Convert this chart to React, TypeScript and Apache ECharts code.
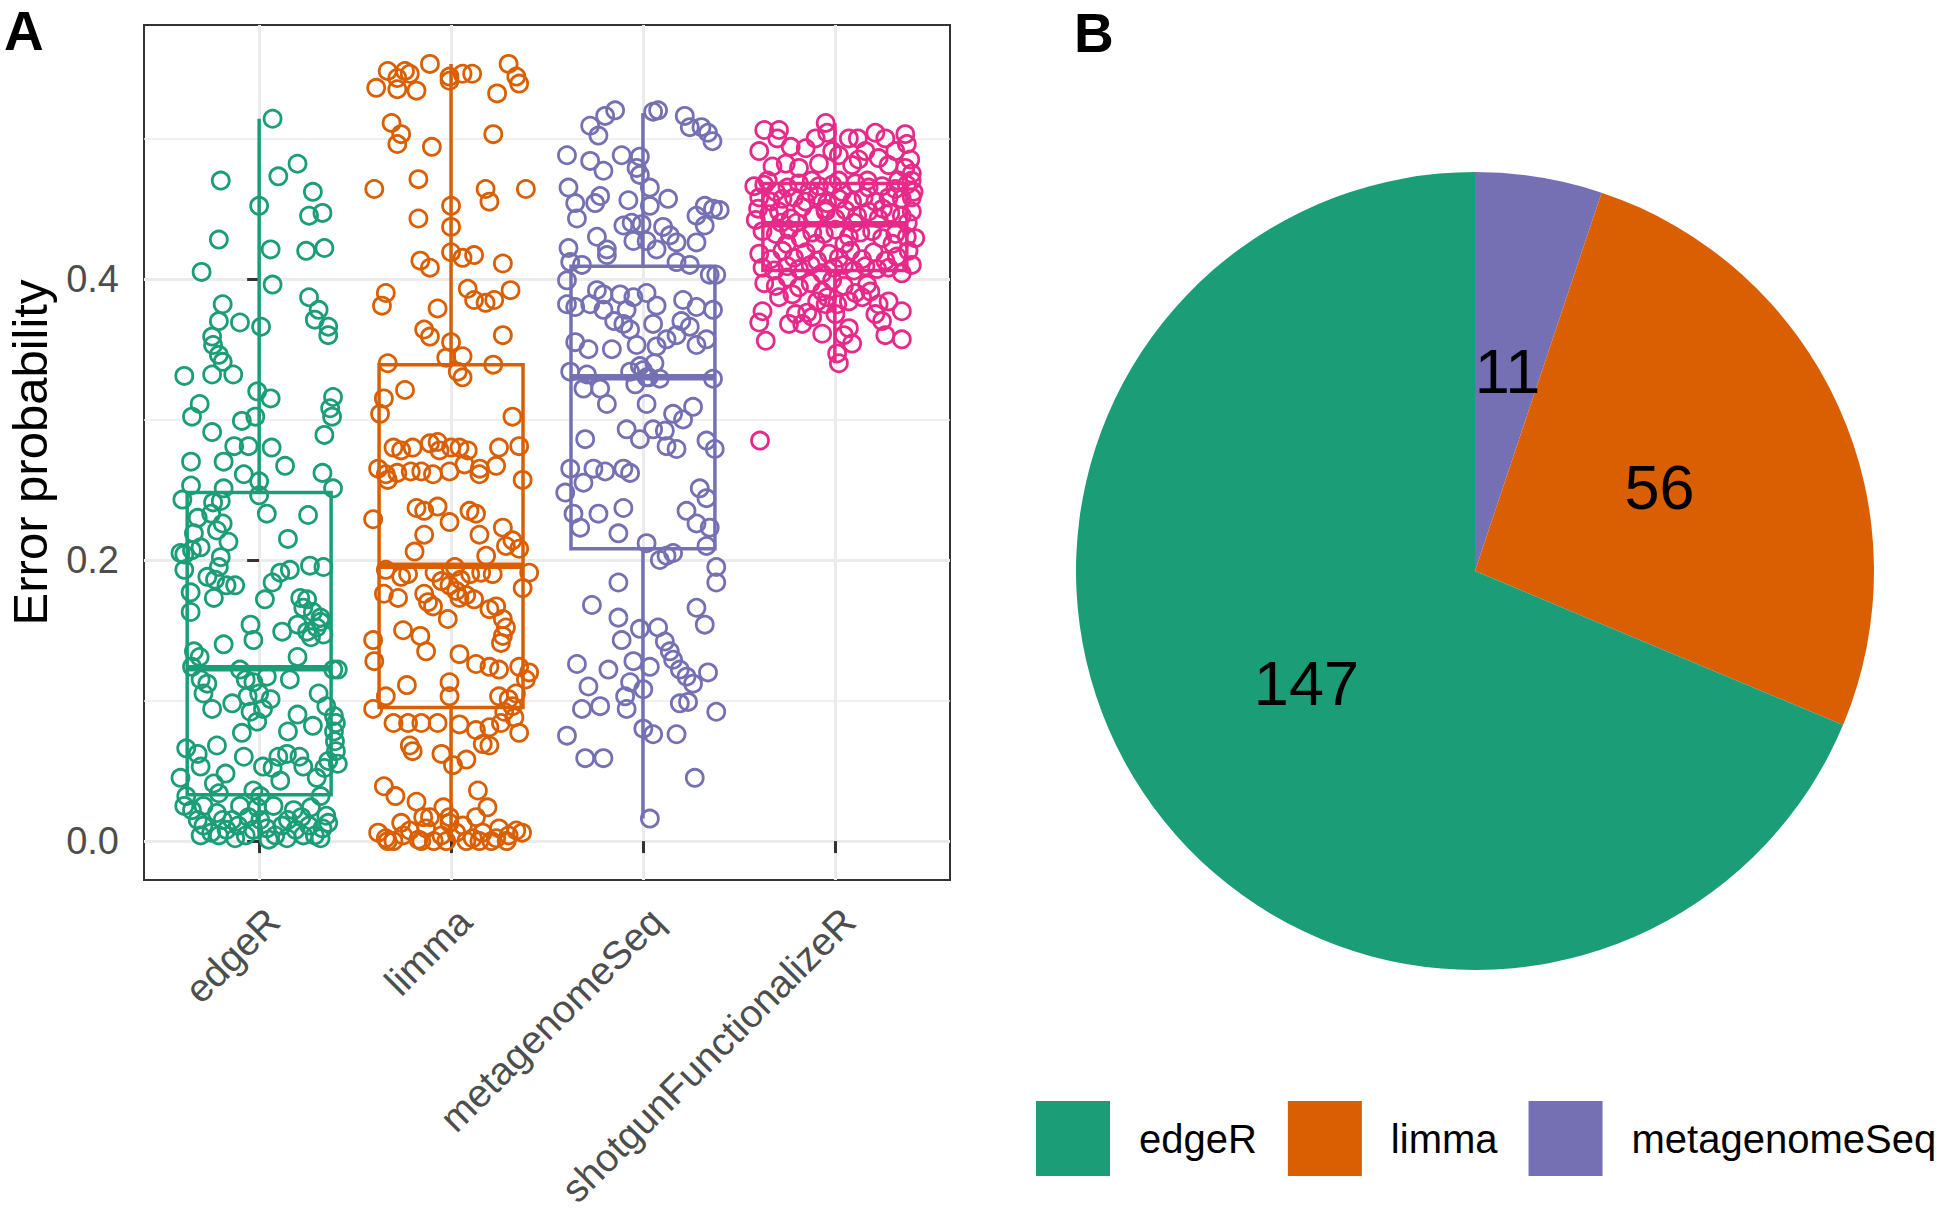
import React, { useEffect, useRef } from 'react';
import * as echarts from 'echarts';

const FONT = '"Liberation Sans", Arial, Helvetica, sans-serif';

const categories = ['edgeR', 'limma', 'metagenomeSeq', 'shotgunFunctionalizeR'];
const categoryColors = ['#1b9e77', '#d95f02', '#7570b3', '#e7298a'];

const yMajorTicks = [0, 0.2, 0.4];
const yMinorTicks = [0.1, 0.3, 0.5];
const xTicks = [0, 1, 2, 3];

// box statistics: [lower whisker, Q1, median, Q3, upper whisker]
const boxEdgeR = [0.001, 0.033, 0.123, 0.248, 0.514];
const boxLimma = [0.0, 0.095, 0.196, 0.339, 0.553];
const boxMetagenomeSeq = [0.016, 0.208, 0.33, 0.409, 0.518];
const boxShotgun = [0.34, 0.406, 0.439, 0.468, 0.511];

// jittered points: [horizontal jitter (category units), error probability]
const pointsEdgeR = [
  [0.07, 0.514], [-0.2, 0.47], [0.1, 0.473], [0.2, 0.482], [0.0, 0.452], [0.28, 0.462], [0.26, 0.445], [0.33, 0.447],
  [-0.21, 0.428], [0.06, 0.421], [0.245, 0.42], [0.34, 0.422], [-0.3, 0.405], [0.07, 0.396], [0.26, 0.387], [-0.19, 0.382],
  [0.31, 0.378], [0.29, 0.371], [0.36, 0.366], [0.36, 0.36], [-0.1, 0.369], [-0.21, 0.37], [0.01, 0.366], [-0.245, 0.359],
  [-0.24, 0.353], [-0.21, 0.346], [-0.19, 0.341], [-0.135, 0.332], [-0.245, 0.332], [-0.39, 0.331], [-0.01, 0.32], [0.06, 0.315],
  [0.385, 0.316], [0.37, 0.308], [0.38, 0.302], [-0.31, 0.311], [-0.35, 0.302], [-0.09, 0.299], [-0.02, 0.302], [-0.245, 0.291],
  [0.34, 0.289], [-0.13, 0.281], [-0.055, 0.281], [0.065, 0.28], [-0.355, 0.27], [-0.185, 0.27], [0.135, 0.267], [-0.08, 0.261],
  [0.33, 0.262], [-0.355, 0.253], [-0.185, 0.251], [0.0, 0.256], [0.385, 0.251], [-0.4, 0.243], [-0.24, 0.241], [-0.2, 0.242],
  [0.0, 0.246], [0.04, 0.233], [0.255, 0.232], [-0.32, 0.23], [-0.25, 0.233], [-0.19, 0.226], [-0.22, 0.221], [-0.34, 0.219],
  [0.15, 0.215], [-0.16, 0.213], [-0.41, 0.205], [-0.39, 0.204], [-0.35, 0.207], [-0.305, 0.209], [-0.2, 0.202], [-0.21, 0.195],
  [-0.27, 0.188], [-0.23, 0.186], [-0.17, 0.182], [-0.125, 0.182], [-0.39, 0.193], [0.11, 0.191], [0.16, 0.193], [0.265, 0.196],
  [0.335, 0.195], [0.07, 0.184], [0.03, 0.172], [-0.357, 0.177], [-0.357, 0.163], [-0.236, 0.173], [0.214, 0.173], [0.25, 0.172],
  [0.23, 0.166], [0.28, 0.163], [0.32, 0.159], [0.3, 0.152], [0.25, 0.149], [0.27, 0.145], [0.335, 0.147], [0.32, 0.156],
  [0.2, 0.154], [0.12, 0.149], [-0.045, 0.154], [-0.03, 0.143], [-0.185, 0.14], [-0.34, 0.135], [-0.31, 0.131], [-0.35, 0.124],
  [0.386, 0.122], [0.41, 0.122], [0.2, 0.131], [-0.305, 0.115], [-0.27, 0.112], [-0.29, 0.105], [-0.245, 0.094], [-0.14, 0.098],
  [-0.1, 0.122], [-0.07, 0.115], [-0.03, 0.113], [0.04, 0.117], [0.16, 0.115], [0.02, 0.094], [-0.045, 0.092], [-0.06, 0.103],
  [0.0, 0.105], [0.06, 0.101], [0.31, 0.105], [0.35, 0.096], [0.39, 0.089], [0.4, 0.084], [0.39, 0.078], [0.395, 0.071],
  [0.4, 0.064], [0.41, 0.055], [0.28, 0.082], [0.2, 0.09], [0.15, 0.078], [-0.01, 0.085], [-0.09, 0.077], [-0.22, 0.068],
  [-0.38, 0.066], [-0.32, 0.062], [-0.305, 0.053], [-0.41, 0.045], [-0.38, 0.032], [-0.175, 0.048], [-0.08, 0.06], [0.02, 0.053],
  [0.07, 0.052], [0.1, 0.06], [0.145, 0.062], [0.21, 0.06], [0.23, 0.053], [0.3, 0.045], [0.34, 0.052], [0.36, 0.057],
  [0.11, 0.043], [-0.236, 0.041], [-0.21, 0.034], [-0.03, 0.036], [0.006, 0.032], [0.32, 0.032], [-0.39, 0.025], [-0.35, 0.022],
  [-0.32, 0.015], [-0.29, 0.011], [-0.25, 0.006], [-0.21, 0.004], [-0.17, 0.008], [-0.14, 0.015], [-0.11, 0.011], [-0.07, 0.004],
  [-0.03, 0.008], [0.006, 0.015], [0.04, 0.009], [0.084, 0.004], [0.12, 0.011], [0.15, 0.015], [0.19, 0.008], [0.22, 0.017],
  [0.26, 0.011], [0.29, 0.004], [0.33, 0.009], [0.36, 0.013], [-0.29, 0.025], [-0.22, 0.02], [-0.1, 0.025], [-0.01, 0.024],
  [0.075, 0.025], [0.18, 0.022], [0.27, 0.024], [0.35, 0.018], [-0.305, 0.004], [-0.19, 0.015], [-0.055, 0.017], [0.145, 0.002],
  [0.23, 0.004], [-0.125, 0.002], [0.05, 0.001], [0.32, 0.002],
];

const pointsLimma = [
  [-0.11, 0.553], [-0.33, 0.548], [-0.24, 0.548], [-0.215, 0.546], [-0.28, 0.543], [-0.39, 0.536], [-0.28, 0.535], [-0.18, 0.534],
  [-0.008, 0.544], [0.06, 0.546], [0.11, 0.546], [0.3, 0.553], [0.34, 0.544], [0.355, 0.539], [0.24, 0.532], [-0.008, 0.541],
  [-0.31, 0.511], [-0.26, 0.503], [-0.28, 0.496], [-0.1, 0.494], [0.22, 0.503], [-0.4, 0.464], [-0.17, 0.471], [0.18, 0.464],
  [0.2, 0.455], [0.39, 0.464], [0.0, 0.452], [0.0, 0.437], [-0.17, 0.443], [0.0, 0.419], [0.06, 0.415], [0.12, 0.417],
  [-0.16, 0.413], [-0.11, 0.408], [0.27, 0.411], [-0.34, 0.39], [-0.36, 0.381], [-0.07, 0.379], [0.087, 0.393], [0.12, 0.385],
  [0.18, 0.383], [0.225, 0.385], [0.31, 0.392], [-0.14, 0.364], [-0.11, 0.359], [0.0, 0.355], [0.06, 0.345], [0.27, 0.36],
  [-0.025, 0.344], [0.035, 0.334], [0.06, 0.33], [0.22, 0.339], [-0.33, 0.34], [-0.24, 0.321], [-0.35, 0.315], [-0.37, 0.304],
  [0.32, 0.302], [-0.3, 0.28], [-0.26, 0.278], [-0.11, 0.283], [-0.07, 0.284], [-0.06, 0.278], [0.044, 0.28], [0.087, 0.278],
  [0.25, 0.28], [0.355, 0.281], [-0.38, 0.265], [-0.34, 0.261], [-0.33, 0.257], [-0.21, 0.263], [-0.155, 0.263], [-0.094, 0.261],
  [-0.008, 0.263], [0.07, 0.268], [0.148, 0.261], [0.235, 0.267], [0.373, 0.257], [-0.18, 0.237], [-0.14, 0.235], [-0.07, 0.238],
  [-0.008, 0.227], [0.096, 0.235], [0.13, 0.233], [0.148, 0.218], [0.27, 0.223], [0.32, 0.214], [-0.406, 0.229], [-0.14, 0.218],
  [-0.19, 0.206], [0.286, 0.21], [0.355, 0.208], [0.183, 0.203], [-0.34, 0.193], [-0.26, 0.188], [-0.224, 0.19], [-0.086, 0.191],
  [-0.008, 0.182], [0.027, 0.178], [0.044, 0.173], [0.079, 0.175], [0.157, 0.191], [0.217, 0.19], [0.407, 0.191], [0.373, 0.18],
  [-0.35, 0.176], [-0.276, 0.173], [-0.14, 0.176], [-0.094, 0.167], [-0.017, 0.158], [0.2, 0.165], [0.235, 0.167], [0.27, 0.158],
  [0.286, 0.152], [0.27, 0.146], [0.26, 0.141], [-0.25, 0.15], [-0.16, 0.146], [-0.406, 0.143], [-0.4, 0.128], [-0.13, 0.135],
  [0.044, 0.133], [0.13, 0.126], [0.2, 0.124], [0.25, 0.122], [0.355, 0.124], [0.407, 0.12], [0.39, 0.115], [-0.23, 0.111],
  [-0.008, 0.113], [-0.008, 0.103], [-0.34, 0.103], [-0.406, 0.094], [0.25, 0.103], [0.3, 0.101], [0.338, 0.105], [0.32, 0.096],
  [0.277, 0.092], [-0.2, 0.28], [0.0, 0.28], [0.15, 0.265], [-0.28, 0.262], [0.1, 0.19], [-0.05, 0.185], [0.05, 0.186],
  [0.12, 0.172], [-0.12, 0.17], [0.02, 0.195], [-0.3, 0.084], [-0.224, 0.084], [-0.155, 0.084], [-0.07, 0.084], [0.044, 0.083],
  [0.13, 0.079], [0.2, 0.081], [0.26, 0.084], [0.33, 0.088], [0.355, 0.077], [-0.215, 0.068], [-0.2, 0.064], [-0.05, 0.062],
  [0.01, 0.054], [0.08, 0.058], [0.165, 0.069], [0.2, 0.068], [-0.35, 0.039], [-0.29, 0.032], [-0.18, 0.028], [-0.04, 0.024],
  [0.14, 0.036], [0.19, 0.024], [0.13, 0.017], [-0.008, 0.017], [-0.145, 0.017], [-0.38, 0.006], [-0.34, 0.002], [-0.3, 0.0],
  [-0.25, 0.004], [-0.215, 0.0075], [-0.17, 0.001], [-0.13, 0.009], [-0.09, 0.0], [-0.05, 0.004], [-0.008, 0.013], [0.027, 0.006],
  [0.08, 0.0], [0.113, 0.002], [0.165, 0.006], [0.21, 0.0], [0.25, 0.009], [0.3, 0.004], [0.34, 0.0075], [0.37, 0.006],
  [-0.26, 0.013], [-0.11, 0.017], [0.062, 0.011], [0.29, 0.0], [-0.33, 0.0], [-0.025, 0.0], [0.148, 0.0], [-0.155, 0.0],
  [0.235, 0.002],
];

const pointsMetagenomeSeq = [
  [-0.145, 0.52], [-0.197, 0.516], [-0.275, 0.509], [-0.232, 0.502], [0.053, 0.519], [0.079, 0.52], [0.218, 0.516], [0.244, 0.508],
  [0.305, 0.508], [0.339, 0.504], [0.362, 0.498], [-0.396, 0.488], [-0.275, 0.484], [-0.206, 0.477], [-0.111, 0.488], [-0.016, 0.487],
  [-0.033, 0.479], [-0.016, 0.474], [-0.388, 0.465], [-0.353, 0.454], [-0.344, 0.443], [-0.249, 0.454], [-0.223, 0.459], [-0.076, 0.456],
  [0.036, 0.465], [0.036, 0.452], [0.131, 0.457], [0.279, 0.445], [0.322, 0.452], [0.365, 0.45], [0.4, 0.449], [0.322, 0.438],
  [-0.102, 0.438], [-0.059, 0.44], [-0.007, 0.439], [0.105, 0.437], [0.14, 0.431], [-0.05, 0.427], [-0.24, 0.43], [-0.388, 0.422],
  [-0.188, 0.421], [0.019, 0.427], [0.071, 0.421], [0.175, 0.426], [0.279, 0.426], [-0.379, 0.412], [-0.318, 0.41], [-0.188, 0.417],
  [0.175, 0.412], [0.244, 0.41], [0.348, 0.403], [0.382, 0.403], [-0.396, 0.399], [-0.24, 0.392], [-0.206, 0.389], [-0.119, 0.389],
  [-0.05, 0.387], [0.019, 0.39], [-0.396, 0.382], [-0.353, 0.38], [-0.275, 0.382], [-0.206, 0.378], [-0.085, 0.378], [0.071, 0.381],
  [0.209, 0.385], [0.279, 0.38], [0.365, 0.378], [-0.102, 0.368], [-0.067, 0.364], [0.053, 0.368], [0.175, 0.36], [0.244, 0.366],
  [-0.353, 0.355], [-0.284, 0.35], [-0.162, 0.35], [-0.033, 0.353], [0.071, 0.352], [0.123, 0.357], [0.279, 0.353], [0.331, 0.357],
  [-0.379, 0.334], [-0.292, 0.332], [-0.223, 0.322], [-0.188, 0.311], [-0.067, 0.334], [-0.016, 0.338], [0.019, 0.33], [0.088, 0.329],
  [0.365, 0.329], [-0.31, 0.322], [0.019, 0.311], [0.157, 0.304], [0.209, 0.3], [0.261, 0.309], [-0.085, 0.293], [0.053, 0.293],
  [0.114, 0.292], [0.123, 0.281], [0.175, 0.279], [-0.016, 0.286], [-0.301, 0.286], [0.331, 0.285], [0.374, 0.279], [-0.379, 0.265],
  [-0.258, 0.265], [-0.197, 0.263], [-0.102, 0.265], [-0.067, 0.262], [-0.31, 0.255], [-0.405, 0.248], [-0.362, 0.233], [-0.232, 0.233],
  [-0.327, 0.223], [-0.102, 0.237], [0.296, 0.251], [0.331, 0.244], [0.227, 0.235], [0.279, 0.226], [0.348, 0.223], [-0.128, 0.219],
  [0.019, 0.212], [0.088, 0.2], [0.123, 0.203], [0.157, 0.205], [0.331, 0.21], [0.382, 0.195], [0.382, 0.184], [0.0, 0.335],
  [0.03, 0.33], [-0.04, 0.325], [0.06, 0.34], [-0.15, 0.37], [0.2, 0.37], [-0.266, 0.168], [-0.128, 0.184], [-0.128, 0.159],
  [-0.111, 0.143], [0.279, 0.166], [0.322, 0.154], [-0.016, 0.151], [0.079, 0.152], [0.114, 0.142], [0.14, 0.135], [0.157, 0.129],
  [-0.344, 0.126], [-0.18, 0.122], [-0.05, 0.128], [0.036, 0.124], [-0.067, 0.113], [0.002, 0.108], [0.192, 0.122], [0.227, 0.117],
  [0.261, 0.112], [0.339, 0.12], [-0.284, 0.11], [-0.318, 0.094], [-0.223, 0.096], [-0.093, 0.103], [-0.085, 0.094], [0.192, 0.098],
  [0.235, 0.099], [0.382, 0.092], [-0.396, 0.075], [-0.301, 0.059], [-0.206, 0.059], [0.002, 0.08], [0.053, 0.076], [0.175, 0.076],
  [0.27, 0.045], [0.036, 0.016],
];

const pointsShotgun = [
  [-0.368, 0.506], [-0.291, 0.506], [-0.394, 0.491], [-0.048, 0.511], [-0.04, 0.504], [0.073, 0.5], [0.211, 0.504], [0.263, 0.5],
  [0.367, 0.503], [0.375, 0.496], [-0.23, 0.494], [-0.152, 0.493], [-0.014, 0.491], [0.021, 0.488], [0.159, 0.491], [0.228, 0.486],
  [0.315, 0.491], [0.393, 0.485], [-0.325, 0.48], [-0.256, 0.482], [-0.187, 0.479], [-0.083, 0.482], [0.09, 0.481], [0.124, 0.485],
  [0.28, 0.481], [0.367, 0.479], [0.401, 0.475], [-0.42, 0.466], [-0.368, 0.467], [-0.308, 0.462], [-0.247, 0.465], [-0.187, 0.468],
  [-0.135, 0.462], [-0.083, 0.466], [-0.014, 0.467], [0.038, 0.462], [0.107, 0.468], [0.176, 0.465], [0.246, 0.466], [0.315, 0.464],
  [0.375, 0.467], [0.41, 0.462], [-0.394, 0.458], [-0.334, 0.455], [-0.273, 0.457], [-0.213, 0.458], [-0.152, 0.455], [-0.092, 0.459],
  [-0.04, 0.454], [0.021, 0.457], [0.09, 0.455], [0.15, 0.458], [0.211, 0.455], [0.28, 0.458], [0.349, 0.457], [0.401, 0.458],
  [-0.412, 0.442], [-0.343, 0.446], [-0.291, 0.448], [-0.23, 0.443], [-0.17, 0.451], [-0.109, 0.445], [-0.048, 0.448], [0.003, 0.443],
  [0.055, 0.449], [0.116, 0.445], [0.176, 0.448], [0.228, 0.443], [0.289, 0.447], [0.349, 0.445], [0.401, 0.448], [-0.377, 0.434],
  [-0.308, 0.432], [-0.239, 0.435], [-0.178, 0.429], [-0.118, 0.433], [-0.057, 0.432], [0.003, 0.435], [0.073, 0.43], [0.133, 0.433],
  [0.194, 0.434], [0.246, 0.429], [0.315, 0.432], [0.375, 0.43], [0.419, 0.429], [-0.394, 0.418], [-0.334, 0.414], [-0.273, 0.42],
  [-0.213, 0.415], [-0.152, 0.419], [-0.092, 0.413], [-0.031, 0.418], [0.021, 0.415], [0.081, 0.42], [0.142, 0.414], [0.202, 0.419],
  [0.263, 0.413], [0.323, 0.416], [0.384, 0.42], [-0.377, 0.408], [-0.316, 0.406], [-0.247, 0.409], [-0.187, 0.407], [-0.126, 0.41],
  [-0.066, 0.404], [-0.005, 0.408], [0.047, 0.41], [0.099, 0.406], [0.159, 0.409], [0.22, 0.407], [0.28, 0.408], [0.349, 0.404],
  [0.401, 0.41], [-0.368, 0.397], [-0.308, 0.395], [-0.247, 0.401], [-0.187, 0.394], [-0.126, 0.397], [-0.066, 0.391], [-0.014, 0.399],
  [0.047, 0.395], [0.107, 0.39], [0.168, 0.396], [-0.291, 0.387], [-0.221, 0.389], [-0.092, 0.384], [-0.04, 0.387], [0.012, 0.382],
  [0.073, 0.384], [0.142, 0.387], [0.228, 0.382], [0.28, 0.384], [0.349, 0.377], [-0.377, 0.377], [-0.394, 0.369], [-0.36, 0.356],
  [-0.239, 0.368], [-0.17, 0.368], [-0.118, 0.373], [-0.066, 0.361], [0.003, 0.375], [0.073, 0.365], [0.09, 0.354], [0.012, 0.347],
  [0.021, 0.34], [0.047, 0.36], [0.211, 0.375], [0.246, 0.37], [0.263, 0.36], [0.349, 0.357], [-0.048, 0.382], [-0.144, 0.376],
  [-0.204, 0.375], [0.185, 0.391], [-0.35, 0.47], [-0.2, 0.44], [-0.05, 0.45], [0.1, 0.44], [0.25, 0.45], [0.38, 0.44],
  [-0.28, 0.44], [0.17, 0.47], [0.33, 0.47], [-0.12, 0.47], [0.02, 0.47], [-0.4, 0.45], [0.3, 0.425], [-0.25, 0.425],
  [0.05, 0.425], [-0.1, 0.425], [0.4, 0.47], [0.12, 0.5], [-0.1, 0.5], [-0.3, 0.5], [-0.39, 0.285],
];

const boxStats = [boxEdgeR, boxLimma, boxMetagenomeSeq, boxShotgun];
const groupPoints = [pointsEdgeR, pointsLimma, pointsMetagenomeSeq, pointsShotgun];

// pie (panel B), drawn clockwise from 12 o'clock
const pieNames = ['metagenomeSeq', 'limma', 'edgeR'];
const pieValues = [11, 56, 147];
const pieColors = ['#7570b3', '#d95f02', '#1b9e77'];
const legendNames = ['edgeR', 'limma', 'metagenomeSeq'];

export default function App() {
  const ref = useRef<HTMLDivElement>(null);

  useEffect(() => {
    const chart = echarts.init(ref.current as HTMLDivElement, null, { renderer: 'svg' });

    const scatterSeries = groupPoints.map((pts, i) => ({
      type: 'scatter',
      name: 'points-' + categories[i],
      xAxisIndex: 0,
      yAxisIndex: 0,
      z: 4,
      silent: true,
      symbol: 'circle',
      symbolSize: 17,
      itemStyle: { color: 'rgba(0,0,0,0)', borderColor: categoryColors[i], borderWidth: 2.8, opacity: 1 },
      data: pts.map(([o, v]) => [i + o, v]),
    }));

    const option: any = {
      animation: false,
      textStyle: { fontFamily: FONT },
      graphic: [
        { type: 'text', x: 4, y: 3, style: { text: 'A', fontFamily: FONT, fontWeight: 'bold', fontSize: 55, fill: '#000', verticalAlign: 'top' } },
        { type: 'text', x: 1074, y: 5, style: { text: 'B', fontFamily: FONT, fontWeight: 'bold', fontSize: 55, fill: '#000', verticalAlign: 'top' } },
      ],
      grid: {
        left: 144, top: 25, width: 806, height: 855,
        show: true, borderColor: '#333333', borderWidth: 2, backgroundColor: 'transparent',
        outerBoundsMode: 'none',
      },
      xAxis: {
        type: 'value', min: -0.6, max: 3.6,
        axisLine: { show: false },
        axisTick: { show: true, customValues: xTicks, length: 12, lineStyle: { color: '#333333', width: 3 } },
        axisLabel: {
          customValues: xTicks,
          formatter: (v: number) => categories[Math.round(v)] ?? '',
          rotate: 45, fontSize: 39, color: '#4d4d4d', margin: 21,
          align: 'right', verticalAlign: 'top', fontFamily: FONT,
        },
        splitLine: { show: true, lineStyle: { color: '#ebebeb', width: 3 } },
      },
      yAxis: [
        {
          type: 'value', min: -0.0277, max: 0.5807,
          axisLine: { show: false },
          axisTick: { show: true, customValues: yMajorTicks, length: 12, lineStyle: { color: '#333333', width: 3 } },
          axisLabel: {
            customValues: yMajorTicks,
            formatter: (v: number) => v.toFixed(1),
            fontSize: 38, color: '#4d4d4d', margin: 25, fontFamily: FONT,
          },
          splitLine: { show: true, lineStyle: { color: '#ebebeb', width: 3 } },
          name: 'Error probability', nameLocation: 'middle', nameGap: 90, nameRotate: 90,
          nameTextStyle: { fontSize: 49, color: '#000', fontFamily: FONT },
        },
        {
          type: 'value', min: -0.0277, max: 0.5807, position: 'left',
          axisLine: { show: false },
          axisTick: { show: false, customValues: yMinorTicks },
          axisLabel: { show: false, customValues: yMinorTicks },
          splitLine: { show: true, lineStyle: { color: '#ebebeb', width: 1.5 } },
        },
      ],
      legend: {
        data: legendNames, left: 1036, top: 1101, orient: 'horizontal',
        itemWidth: 74, itemHeight: 75, itemGap: 31, padding: 0, width: 1400,
        icon: 'rect', selectedMode: false,
        textStyle: { fontSize: 40, color: '#000', padding: [0, 0, 0, 24], fontFamily: FONT },
      },
      series: [
        {
          type: 'custom',
          name: 'boxes',
          xAxisIndex: 0,
          yAxisIndex: 0,
          z: 3,
          silent: true,
          data: boxStats.map((s, i) => [i, ...s]),
          encode: { x: 0, y: [1, 2, 3, 4, 5] },
          renderItem: (params: any, api: any) => {
            const i = api.value(0);
            const col = categoryColors[i];
            const cx = api.coord([i, 0])[0];
            const left = api.coord([i - 0.375, 0])[0];
            const right = api.coord([i + 0.375, 0])[0];
            const yLow = api.coord([i, api.value(1)])[1];
            const yQ1 = api.coord([i, api.value(2)])[1];
            const yMed = api.coord([i, api.value(3)])[1];
            const yQ3 = api.coord([i, api.value(4)])[1];
            const yHigh = api.coord([i, api.value(5)])[1];
            const st = { stroke: col, lineWidth: 3.5, fill: 'none' };
            return {
              type: 'group',
              children: [
                { type: 'line', shape: { x1: cx, y1: yQ3, x2: cx, y2: yHigh }, style: st },
                { type: 'line', shape: { x1: cx, y1: yQ1, x2: cx, y2: yLow }, style: st },
                { type: 'rect', shape: { x: left, y: yQ3, width: right - left, height: yQ1 - yQ3 }, style: st },
                { type: 'line', shape: { x1: left, y1: yMed, x2: right, y2: yMed }, style: { stroke: col, lineWidth: 6.5 } },
              ],
            };
          },
        },
        ...scatterSeries,
        {
          type: 'pie',
          name: 'best',
          center: [1475, 571],
          radius: 399,
          startAngle: 90,
          clockwise: true,
          silent: true,
          avoidLabelOverlap: false,
          itemStyle: { borderWidth: 0 },
          label: {
            show: true, position: 'inside', formatter: '{c}',
            fontSize: 63, color: '#000', fontFamily: FONT,
          },
          labelLine: { show: false },
          emphasis: { disabled: true },
          data: pieNames.map((n, i) => ({ name: n, value: pieValues[i], itemStyle: { color: pieColors[i] } })),
        },
      ],
    };

    chart.setOption(option);
    return () => chart.dispose();
  }, []);

  return (
    <div
      ref={ref}
      style={{ position: 'fixed', left: 0, top: 0, width: 1946, height: 1216, background: '#fff' }}
    />
  );
}
